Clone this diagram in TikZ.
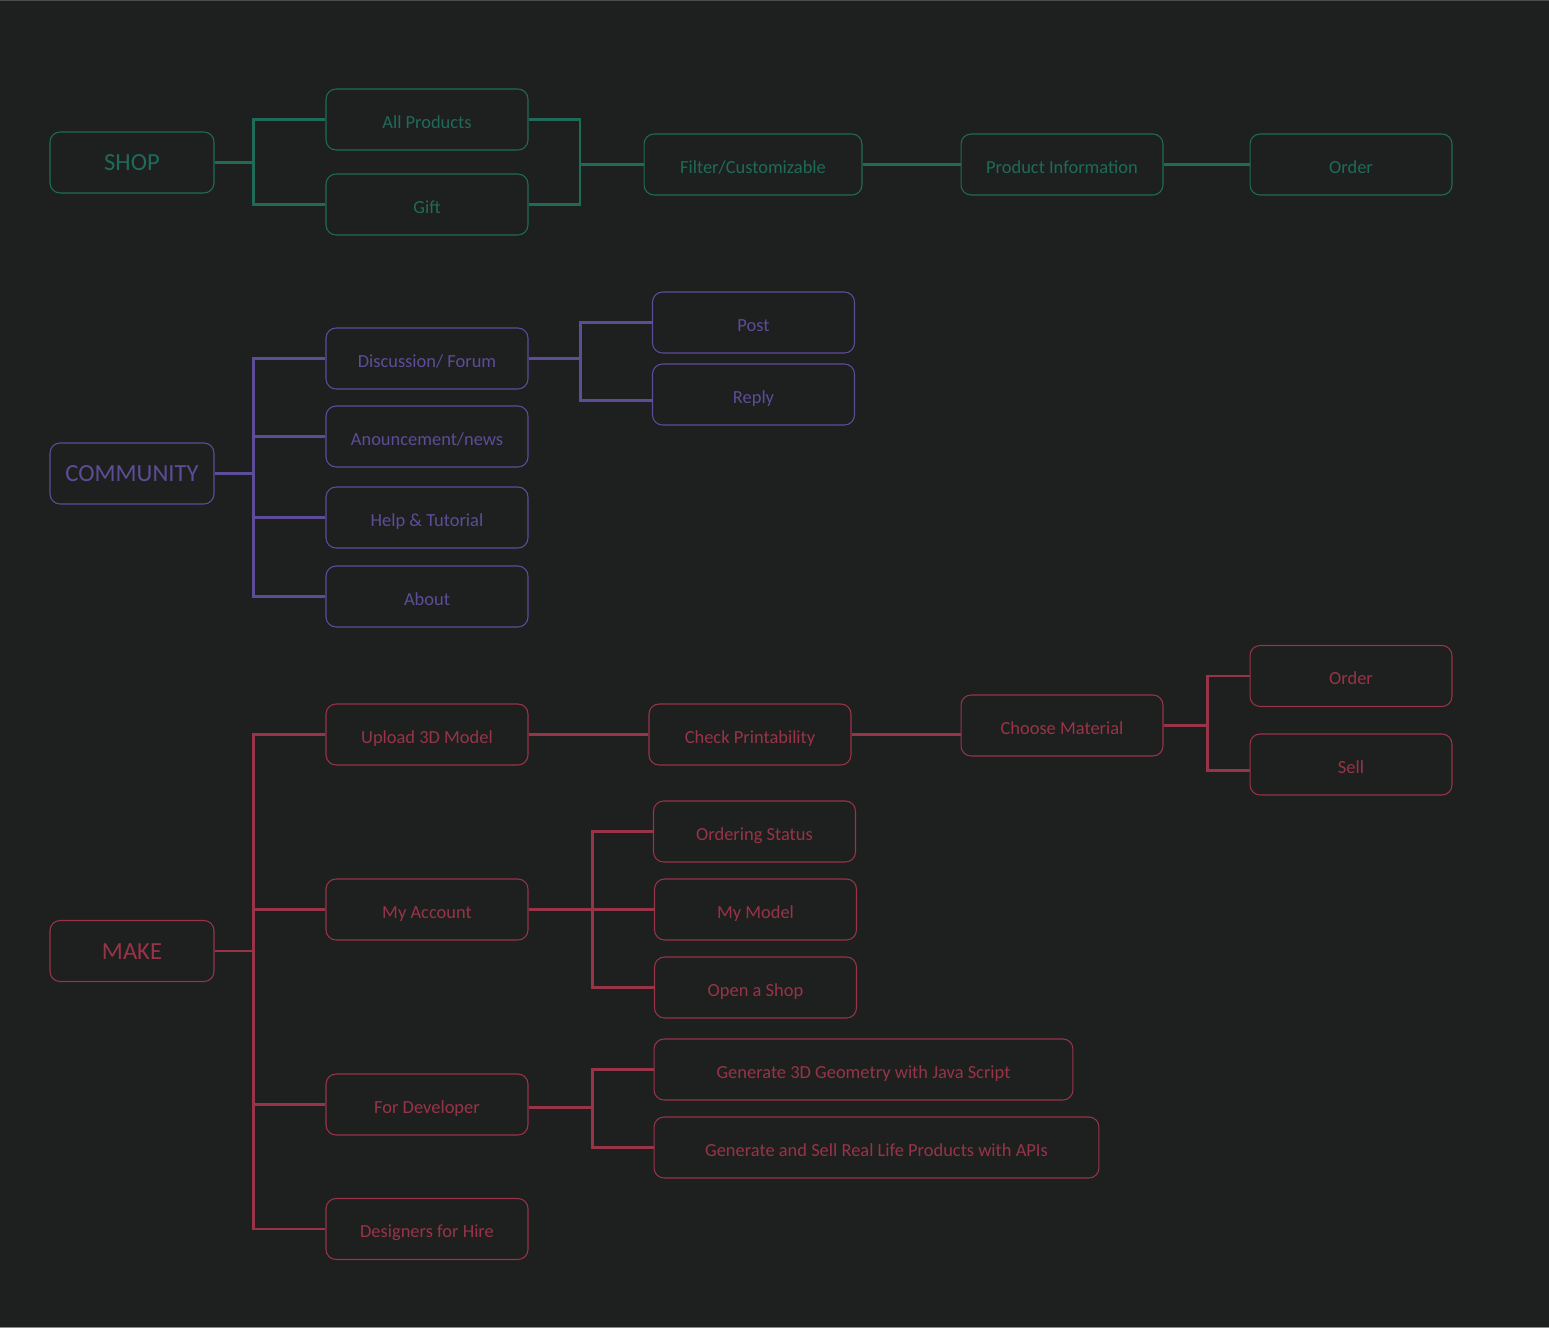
\documentclass[tikz,border=0pt]{standalone}
\usepackage{fontspec}
\setmainfont{Carlito}
\usepackage{xcolor}
\usetikzlibrary{positioning,calc}

\definecolor{bgdark}{HTML}{1E1F1F}
\definecolor{shopgreen}{HTML}{1E6B58}
\definecolor{commpurple}{HTML}{5D4D98}
\definecolor{makered}{HTML}{983447}

\tikzset{
  box/.style={draw, rounded corners=0.2cm, minimum width=4.04cm, minimum height=1.22cm,
    line width=0.6pt, inner sep=0pt, text height=1.0em, text depth=0pt,
    font=\fontsize{10.5}{12}\selectfont},
  rootbox/.style={box, minimum width=3.28cm, text height=0.95em, font=\fontsize{14}{17}\selectfont},
  link/.style={line width=1.4pt},
  shopc/.style={color=shopgreen},
  commc/.style={color=commpurple},
  makec/.style={color=makered}
}

\begin{document}
\begin{tikzpicture}[x=0.02cm,y=-0.02cm]
    % Background
    \fill[bgdark] (0,0) rectangle (1549,1328);
    \useasboundingbox (0,0) rectangle (1549,1328);
    \draw[line width=1pt, black!70!white] (0,0.5) -- (1549,0.5);
    \draw[line width=1pt, black!45!white] (0,1327.5) -- (1549,1327.5);

    % Shop
    \begin{scope}[shopc]
    \node[rootbox] (shop) at (132,162.5) {SHOP};
    \node[box] (allprod) at (427,119.5) {All Products};
    \node[box] (gift) at (427,204.5) {Gift};
    \node[box, minimum width=4.36cm] (filter) at (753,164.5) {Filter/Customizable};
    \node[box] (prodinfo) at (1062,164.5) {Product Information};
    \node[box] (shoporder) at (1351,164.5) {Order};
    \coordinate (shopbus) at (580,164.5);
    \draw[link] (shop.east) -- ++(39,0) |- (allprod.west);
    \draw[link] (shop.east) -- ++(39,0) |- (gift.west);
    \draw[link] (allprod.east) -| (shopbus);
    \draw[link] (gift.east) -| (shopbus);
    \draw[link] (shopbus) -- (filter.west);
    \draw[link] (filter.east) -- (prodinfo.west);
    \draw[link] (prodinfo.east) -- (shoporder.west);
    \end{scope}

    % Community
    \begin{scope}[commc]
    \node[rootbox] (comm) at (132,473.5) {COMMUNITY};
    \node[box] (forum) at (427,358.5) {Discussion/ Forum};
    \node[box] (news) at (427,436.5) {Anouncement/news};
    \node[box] (help) at (427,517.5) {Help \& Tutorial};
    \node[box] (about) at (427,596.5) {About};
    \node[box] (post) at (753.5,322.5) {Post};
    \node[box] (reply) at (753.5,394.5) {Reply};
    \foreach \kid in {forum,news,help,about}
      \draw[link] (comm.east) -- ++(39,0) |- (\kid.west);
    \draw[link] (forum.east) -- ++(52,0) |- (post.west);
    \draw[link] (forum.east) -- ++(52,0) |- ([yshift=-0.12cm]reply.west);
    \end{scope}

    % Make
    \begin{scope}[makec]
    \node[rootbox] (make) at (132,951) {MAKE};
    \node[box] (upload) at (427,734.5) {Upload 3D Model};
    \node[box] (account) at (427,909.5) {My Account};
    \node[box] (dev) at (427,1104.5) {For Developer};
    \node[box] (hire) at (427,1229) {Designers for Hire};
    \node[box] (check) at (750,734.5) {Check Printability};
    \node[box] (material) at (1062,725.5) {Choose Material};
    \node[box] (makeorder) at (1351,676) {Order};
    \node[box] (sell) at (1351,764.5) {Sell};
    \node[box] (status) at (754.5,831.5) {Ordering Status};
    \node[box] (mymodel) at (755.5,909.5) {My Model};
    \node[box] (openshop) at (755.5,987.5) {Open a Shop};
    \node[box, minimum width=8.38cm] (geometry) at (863.5,1069.5) {Generate 3D Geometry with Java Script};
    \node[box, minimum width=8.9cm] (apis) at (876.5,1147.5) {Generate and Sell Real Life Products with APIs};
    \foreach \kid in {upload,account,dev,hire}
      \draw[link] (make.east) -- ++(39,0) |- (\kid.west);
    \draw[link] (upload.east) -- (check.west);
    \draw[link] (check.east) -- (check.east -| material.west);
    \draw[link] (material.east) -- ++(44,0) |- (makeorder.west);
    \draw[link] (material.east) -- ++(44,0) |- ([yshift=-0.12cm]sell.west);
    \foreach \kid in {status,mymodel,openshop}
      \draw[link] (account.east) -- ++(64,0) |- (\kid.west);
    \draw[link] ([yshift=-0.06cm]dev.east) -- ++(64,0) |- (geometry.west);
    \draw[link] ([yshift=-0.06cm]dev.east) -- ++(64,0) |- (apis.west);
    \end{scope}
\end{tikzpicture}
\end{document}
